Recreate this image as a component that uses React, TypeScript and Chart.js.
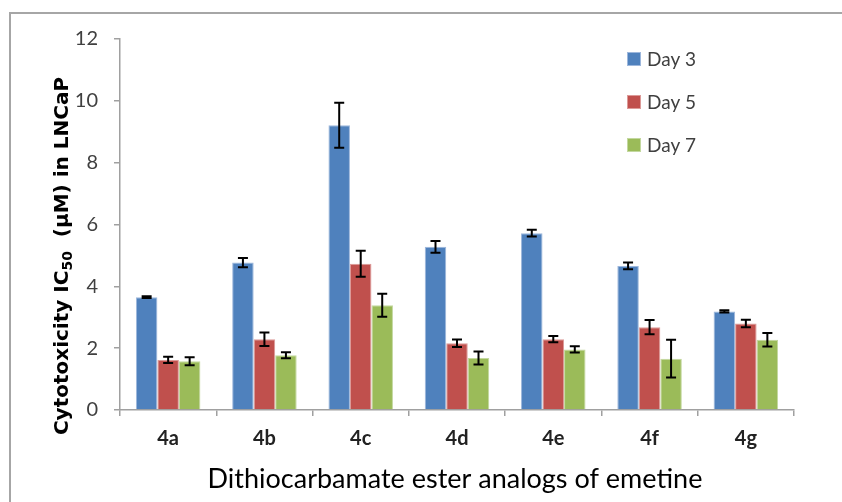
import React, { useEffect, useRef } from "react";
import { Chart, registerables } from "chart.js";

Chart.register(...registerables);

const categories = ["4a", "4b", "4c", "4d", "4e", "4f", "4g"];
const seriesLabels = ["Day 3", "Day 5", "Day 7"];
const day3 = [3.65, 4.77, 9.21, 5.28, 5.72, 4.66, 3.19];
const day3Err = [0.03, 0.15, 0.73, 0.19, 0.11, 0.11, 0.04];
const day5 = [1.62, 2.29, 4.73, 2.16, 2.29, 2.68, 2.8];
const day5Err = [0.1, 0.22, 0.42, 0.12, 0.1, 0.23, 0.12];
const day7 = [1.58, 1.77, 3.39, 1.68, 1.96, 1.66, 2.27];
const day7Err = [0.13, 0.1, 0.37, 0.21, 0.1, 0.61, 0.22];
const yTicks = [0, 2, 4, 6, 8, 10, 12];
const yTitleMain = "Cytotoxicity IC";
const yTitleSub = "50";
const yTitleRest = "  (\u00B5M) in LNCaP";
const xTitle = "Dithiocarbamate ester analogs of emetine";

const colors = ["#4F81BD", "#C0504D", "#9BBB59"];
const borders = ["#9db7dc", "#dc9a98", "#c3d89f"];
const errors = [day3Err, day5Err, day7Err];

const errorBarPlugin = {
  id: "errorBars",
  afterDatasetsDraw(chart: any) {
    const ctx = chart.ctx;
    const y = chart.scales.y;
    ctx.save();
    ctx.strokeStyle = "#000";
    ctx.lineWidth = 2;
    chart.data.datasets.forEach((ds: any, di: number) => {
      const meta = chart.getDatasetMeta(di);
      meta.data.forEach((bar: any, i: number) => {
        const v = ds.data[i];
        const e = errors[di][i];
        const top = y.getPixelForValue(v + e);
        const bot = y.getPixelForValue(v - e);
        const x = bar.x;
        ctx.beginPath();
        ctx.moveTo(x, top);
        ctx.lineTo(x, bot);
        ctx.moveTo(x - 5, top);
        ctx.lineTo(x + 5, top);
        ctx.moveTo(x - 5, bot);
        ctx.lineTo(x + 5, bot);
        ctx.stroke();
      });
    });
    ctx.restore();
  },
};

const decorPlugin = {
  id: "decor",
  beforeDraw(chart: any) {
    const ctx = chart.ctx;
    ctx.save();
    ctx.fillStyle = "#fff";
    ctx.fillRect(0, 0, chart.width, chart.height);
    ctx.strokeStyle = "#a6a6a6";
    ctx.lineWidth = 2;
    ctx.beginPath();
    ctx.moveTo(10, chart.height);
    ctx.lineTo(10, 13);
    ctx.lineTo(chart.width, 13);
    ctx.stroke();
    ctx.restore();
  },
  afterDraw(chart: any) {
    const ctx = chart.ctx;
    const area = chart.chartArea;
    ctx.save();
    // legend
    ctx.font = "19px Lato";
    ctx.textBaseline = "middle";
    ctx.textAlign = "left";
    const rows = [59, 102, 145];
    chart.data.datasets.forEach((ds: any, i: number) => {
      ctx.fillStyle = colors[i];
      ctx.fillRect(627, rows[i] - 7, 14, 14);
      ctx.strokeStyle = borders[i];
      ctx.lineWidth = 1;
      ctx.strokeRect(627.5, rows[i] - 6.5, 13, 13);
      ctx.fillStyle = "#404040";
      ctx.fillText(ds.label, 647, rows[i] + 1);
    });
    // x title
    ctx.font = "27px Lato";
    ctx.textAlign = "center";
    ctx.textBaseline = "alphabetic";
    ctx.fillStyle = "#000";
    ctx.fillText(xTitle, (area.left + area.right) / 2 - 2, 488);
    // y title with subscript
    const big = "bold 20px 'DejaVu Sans'";
    const small = "bold 14px 'DejaVu Sans'";
    ctx.font = big;
    const w1 = ctx.measureText(yTitleMain).width;
    const w3 = ctx.measureText(yTitleRest).width;
    ctx.font = small;
    const w2 = ctx.measureText(yTitleSub).width;
    const total = w1 + w2 + w3;
    ctx.translate(68, 256);
    ctx.rotate(-Math.PI / 2);
    ctx.textAlign = "left";
    let x = -total / 2;
    ctx.font = big;
    ctx.fillText(yTitleMain, x, 0);
    x += w1;
    ctx.font = small;
    ctx.fillText(yTitleSub, x, 4);
    x += w2;
    ctx.font = big;
    ctx.fillText(yTitleRest, x, 0);
    ctx.restore();
  },
};

export default function App() {
  const ref = useRef<HTMLCanvasElement | null>(null);
  useEffect(() => {
    document.body.style.margin = "0";
    if (!ref.current) return;
    const chart = new Chart(ref.current, {
      type: "bar",
      data: {
        labels: categories,
        datasets: [day3, day5, day7].map((d, i) => ({
          label: seriesLabels[i],
          data: d,
          backgroundColor: colors[i],
          borderColor: borders[i],
          borderWidth: 1,
          categoryPercentage: 0.67,
          barPercentage: 1.0,
        })),
      },
      options: {
        animation: false,
        responsive: false,
        devicePixelRatio: 1,
        layout: { padding: { left: 0, top: 39, right: 48, bottom: 0 } },
        plugins: {
          legend: { display: false },
          tooltip: { enabled: false },
        },
        scales: {
          x: {
            grid: {
              display: true,
              drawOnChartArea: false,
              drawTicks: true,
              tickLength: 6,
              color: "#a0a0a0",
              lineWidth: 1.5,
            },
            border: { color: "#a0a0a0", width: 1.5 },
            ticks: {
              font: { family: "Lato", size: 20, weight: "bold" },
              color: "#222",
              padding: 11,
            },
            afterFit(scale: any) {
              scale.height = 92;
            },
          },
          y: {
            min: 0,
            max: 12,
            afterBuildTicks(scale: any) {
              scale.ticks = yTicks.map((v) => ({ value: v }));
            },
            grid: {
              display: true,
              drawOnChartArea: false,
              drawTicks: true,
              tickLength: 6,
              color: "#a0a0a0",
              lineWidth: 1.5,
            },
            border: { color: "#a0a0a0", width: 1.5 },
            ticks: {
              font: { family: "Lato", size: 20 },
              color: "#404040",
              padding: 16,
            },
            afterFit(scale: any) {
              scale.width = 120;
            },
          },
        },
      },
      plugins: [decorPlugin, errorBarPlugin],
    } as any);
    return () => chart.destroy();
  }, []);
  return (
    <div style={{ width: 842, height: 502 }}>
      <canvas ref={ref} width={842} height={502} style={{ display: "block" }} />
    </div>
  );
}
